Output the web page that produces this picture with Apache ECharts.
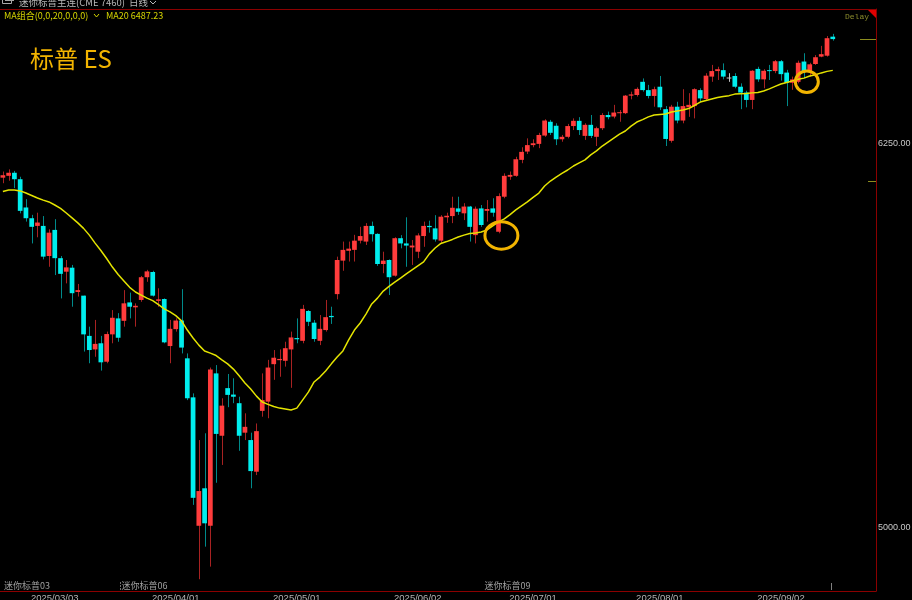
<!DOCTYPE html>
<html><head><meta charset="utf-8">
<script src="https://cdn.jsdelivr.net/npm/echarts@6/dist/echarts.min.js"></script>
<style>html,body{margin:0;padding:0;background:#000;}#c{width:912px;height:600px;}</style>
</head><body><div id="c"></div>
<script>
const dates = [
'2025/02/18','2025/02/19','2025/02/20','2025/02/21','2025/02/24','2025/02/25','2025/02/26','2025/02/27','2025/02/28',
'2025/03/03','2025/03/04','2025/03/05','2025/03/06','2025/03/07','2025/03/10','2025/03/11','2025/03/12','2025/03/13','2025/03/14','2025/03/17','2025/03/18','2025/03/19','2025/03/20','2025/03/21','2025/03/24','2025/03/25','2025/03/26','2025/03/27','2025/03/28','2025/03/31',
'2025/04/01','2025/04/02','2025/04/03','2025/04/04','2025/04/07','2025/04/08','2025/04/09','2025/04/10','2025/04/11','2025/04/14','2025/04/15','2025/04/16','2025/04/17','2025/04/21','2025/04/22','2025/04/23','2025/04/24','2025/04/25','2025/04/28','2025/04/29','2025/04/30',
'2025/05/01','2025/05/02','2025/05/05','2025/05/06','2025/05/07','2025/05/08','2025/05/09','2025/05/12','2025/05/13','2025/05/14','2025/05/15','2025/05/16','2025/05/19','2025/05/20','2025/05/21','2025/05/22','2025/05/23','2025/05/27','2025/05/28','2025/05/29','2025/05/30',
'2025/06/02','2025/06/03','2025/06/04','2025/06/05','2025/06/06','2025/06/09','2025/06/10','2025/06/11','2025/06/12','2025/06/13','2025/06/16','2025/06/17','2025/06/18','2025/06/20','2025/06/23','2025/06/24','2025/06/25','2025/06/26','2025/06/27','2025/06/30',
'2025/07/01','2025/07/02','2025/07/03','2025/07/07','2025/07/08','2025/07/09','2025/07/10','2025/07/11','2025/07/14','2025/07/15','2025/07/16','2025/07/17','2025/07/18','2025/07/21','2025/07/22','2025/07/23','2025/07/24','2025/07/25','2025/07/28','2025/07/29','2025/07/30','2025/07/31',
'2025/08/01','2025/08/04','2025/08/05','2025/08/06','2025/08/07','2025/08/08','2025/08/11','2025/08/12','2025/08/13','2025/08/14','2025/08/15','2025/08/18','2025/08/19','2025/08/20','2025/08/21','2025/08/22','2025/08/25','2025/08/26','2025/08/27','2025/08/28','2025/08/29',
'2025/09/02','2025/09/03','2025/09/04','2025/09/05','2025/09/08','2025/09/09','2025/09/10','2025/09/11','2025/09/12','2025/09/15'
];
const opens = [
6138,6144,6154,6133,6041,6006,5981,5981,5883,5968,
5876,5832,5845,5766,5754,5623,5579,5599,5539,5628,
5680,5672,5732,5716,5740,5814,5831,5737,5743,5590,
5645,5673,5550,5423,5005,5127,5005,5501,5298,5453,
5432,5404,5308,5284,5181,5379,5409,5531,5544,5542,
5579,5616,5607,5704,5666,5607,5642,5688,5759,5868,
5900,5903,5933,5930,5981,5955,5857,5870,5819,5941,
5924,5911,5897,5948,5981,5973,5933,6009,6013,6038,
6022,6044,5951,6038,6030,6038,5962,6076,6141,6144,
6196,6223,6244,6248,6275,6320,6307,6263,6271,6306,
6323,6274,6310,6271,6299,6342,6337,6348,6348,6405,
6407,6450,6423,6404,6434,6361,6258,6369,6324,6367,
6371,6423,6394,6467,6485,6488,6464,6469,6434,6415,
6391,6492,6458,6488,6485,6517,6480,6447,6450,6516,
6483,6508,6532,6535,6597
];
const closes = [
6146,6154,6133,6030,6006,5978,5992,5881,5959,5876,
5825,5846,5762,5772,5628,5577,5597,5537,5629,5682,
5617,5729,5718,5721,5814,5833,5754,5742,5602,5646,
5673,5585,5420,5096,5118,5013,5514,5304,5396,5431,
5425,5298,5327,5183,5313,5414,5520,5552,5548,5583,
5618,5612,5711,5669,5613,5646,5684,5684,5870,5903,
5907,5933,5948,5981,5954,5857,5868,5814,5941,5924,
5917,5917,5950,5981,5977,5937,6011,6014,6040,6027,
6044,5978,6037,5984,6036,6024,6078,6144,6147,6198,
6222,6244,6250,6277,6324,6284,6263,6271,6306,6323,
6293,6310,6274,6299,6342,6335,6350,6351,6405,6409,
6427,6423,6404,6426,6367,6264,6369,6324,6371,6375,
6426,6396,6470,6485,6491,6467,6464,6434,6415,6391,
6486,6458,6486,6485,6517,6475,6447,6458,6512,6483,
6507,6530,6540,6592,6589
];
const lows = [
6120,6128,6104,6022,5995,5924,5944,5872,5848,5821,
5745,5794,5718,5751,5572,5534,5555,5510,5534,5599,
5604,5653,5680,5653,5734,5799,5751,5718,5599,5534,
5637,5566,5414,5073,4831,4937,4872,5145,5203,5391,
5404,5249,5284,5127,5170,5360,5355,5480,5490,5523,
5454,5599,5599,5655,5604,5593,5637,5662,5742,5835,
5865,5865,5924,5919,5930,5851,5827,5756,5816,5908,
5848,5854,5876,5913,5959,5930,5924,5991,5990,6017,
6000,5930,5924,5978,5995,6011,5957,6071,6131,6141,
6185,6215,6237,6234,6271,6277,6244,6255,6266,6293,
6277,6261,6267,6241,6293,6328,6331,6320,6345,6393,
6402,6418,6396,6369,6358,6241,6252,6315,6315,6336,
6331,6385,6391,6450,6456,6458,6450,6429,6361,6367,
6361,6450,6429,6456,6478,6454,6371,6424,6445,6462,
6467,6505,6530,6532,6584
];
const highs = [
6158,6165,6160,6141,6068,6017,6024,6013,5970,6003,
5883,5870,5854,5792,5754,5653,5675,5623,5637,5707,
5697,5772,5764,5729,5818,5838,5835,5778,5745,5675,
5680,5775,5566,5436,5284,5306,5520,5528,5420,5499,
5485,5425,5371,5308,5338,5501,5545,5577,5579,5604,
5637,5680,5724,5707,5675,5691,5740,5718,5881,5930,
5930,5952,5978,5990,5995,5957,5897,5872,5944,5951,
6009,5935,5957,5995,5998,6016,6016,6024,6076,6076,
6055,6046,6044,6049,6065,6071,6087,6152,6158,6206,
6237,6266,6263,6284,6328,6326,6315,6277,6313,6331,
6335,6315,6342,6304,6348,6353,6375,6358,6407,6418,
6432,6461,6440,6434,6469,6371,6375,6385,6426,6413,
6429,6429,6478,6505,6499,6510,6478,6478,6445,6421,
6488,6499,6491,6505,6521,6521,6489,6467,6519,6543,
6512,6537,6567,6599,6606
];
const ma20 = [
6093,6098,6098,6095,6088,6080,6072,6065,6059,6049,
6038,6023,6007,5991,5973,5951,5925,5901,5875,5847,
5823,5802,5781,5766,5756,5746,5738,5725,5711,5701,
5689,5672,5642,5616,5593,5574,5567,5559,5545,5532,
5515,5493,5470,5450,5427,5408,5400,5393,5388,5385,
5382,5388,5414,5440,5473,5489,5509,5532,5554,5574,
5610,5642,5665,5694,5727,5746,5769,5784,5798,5811,
5825,5838,5851,5864,5890,5909,5924,5930,5937,5945,
5951,5956,5958,5961,5968,5981,5994,6004,6018,6033,
6046,6059,6074,6088,6111,6127,6140,6152,6163,6176,
6186,6196,6212,6225,6241,6254,6267,6280,6290,6306,
6319,6327,6336,6342,6344,6345,6352,6355,6358,6363,
6373,6384,6389,6394,6399,6402,6405,6410,6411,6412,
6414,6415,6420,6427,6435,6443,6448,6453,6458,6462,
6469,6473,6479,6484,6487.23
];
const dateTicks = ['2025/03/03','2025/04/01','2025/05/01','2025/06/02','2025/07/01','2025/08/01','2025/09/02'];
const priceTicks = [5000, 6250];
const rollNames = ['迷你标普03','迷你标普06','迷你标普09'];
const rollAt = [0, 21, 84];
const markedPoints = [[86.5, 5950], [139.5, 6450]];
const refPrice = 6127;
const padSlots = 7;

const cats = dates.concat(new Array(padSlots).fill(''));
const candleData = dates.map((d, i) => [i, opens[i], closes[i], lows[i], highs[i]]);

const UP = '#ff3c3c', DOWN = '#00eeee', UPW = '#a82222', DOWNW = '#008a8a', FLAT = '#c4c4c4';

function renderCandle(params, api) {
  const i = api.value(0), o = api.value(1), c = api.value(2), l = api.value(3), h = api.value(4);
  const pO = api.coord([i, o]), pC = api.coord([i, c]), pL = api.coord([i, l]), pH = api.coord([i, h]);
  const w = api.size([1, 0])[0] * 0.82;
  const x = pO[0];
  const up = c > o, flat = c === o;
  const body = up ? UP : (flat ? FLAT : DOWN);
  const wick = up ? UPW : (flat ? FLAT : DOWNW);
  const top = Math.min(pO[1], pC[1]), bot = Math.max(pO[1], pC[1]);
  const xr = Math.round(x) + 0.5;
  return { type: 'group', children: [
    { type: 'line', shape: { x1: xr, y1: pH[1], x2: xr, y2: pL[1] }, style: { stroke: wick, lineWidth: 1 } },
    { type: 'rect', shape: { x: x - w / 2, y: top, width: w, height: Math.max(bot - top, 1) }, style: { fill: body } }
  ]};
}

const chart = echarts.init(document.getElementById('c'), null, { renderer: 'canvas' });
const option = {
  backgroundColor: '#000000',
  animation: false,
  grid: { left: 0, right: 36, top: 9, bottom: 9, show: false, containLabel: false, outerBoundsMode: 'none' },
  xAxis: {
    type: 'category', data: cats, boundaryGap: true,
    axisLine: { show: true, lineStyle: { color: '#8b0000', width: 1 } },
    axisTick: { show: false }, splitLine: { show: false },
    axisLabel: {
      interval: (idx, val) => dateTicks.includes(val),
      color: '#b4b4b4', fontSize: 9.5, margin: 2, fontFamily: 'Liberation Sans'
    }
  },
  yAxis: {
    type: 'value', position: 'right', min: 4792.7, max: 6687, scale: true,
    axisLine: { show: true, lineStyle: { color: '#8b0000', width: 1 } },
    axisTick: { show: false }, splitLine: { show: false },
    axisLabel: {
      customValues: priceTicks, formatter: v => Number(v).toFixed(2),
      color: '#c8c8c8', fontSize: 9, margin: 2, fontFamily: 'Liberation Sans'
    }
  },
  series: [
    { type: 'custom', name: 'K', renderItem: renderCandle, data: candleData, clip: true,
      encode: { x: 0, y: [1, 2, 3, 4] } },
    { type: 'line', name: 'MA20', data: ma20, symbol: 'none', smooth: false,
      lineStyle: { color: '#e4e400', width: 1.5 }, z: 3 }
  ]
};
chart.setOption(option);

function px(idx, val) { return chart.convertToPixel({ xAxisIndex: 0, yAxisIndex: 0 }, [idx, val]); }
function pxFrac(k, val) {
  const a = px(Math.floor(k), val), b = px(Math.floor(k) + 1, val);
  const f = k - Math.floor(k);
  return [a[0] + (b[0] - a[0]) * f, a[1]];
}
const slot = px(1, 6000)[0] - px(0, 6000)[0];
const g = [];
g.push({ type: 'line', shape: { x1: 0, y1: 9.5, x2: 876.5, y2: 9.5 }, style: { stroke: '#8b0000', lineWidth: 1 }, z: 10 });
g.push({ type: 'polygon', shape: { points: [[868, 10], [876, 10], [876, 18]] }, style: { fill: '#e00000' }, z: 10 });
g.push({ type: 'rect', shape: { x: 2.5, y: -3.5, width: 9, height: 7 }, style: { fill: 'none', stroke: '#a8a8a8', lineWidth: 1 }, z: 10 });
g.push({ type: 'line', shape: { x1: 5, y1: 0.5, x2: 14, y2: 0.5 }, style: { stroke: '#a8a8a8', lineWidth: 1 }, z: 10 });
g.push({ type: 'text', x: 19, y: 2, style: { text: '迷你标普主连(CME 7460)', fill: '#b8b8b8', fontSize: 9.5, fontFamily: 'Noto Sans CJK SC', verticalAlign: 'middle' }, z: 10 });
g.push({ type: 'text', x: 129, y: 2, style: { text: '日线', fill: '#b8b8b8', fontSize: 9.5, fontFamily: 'Noto Sans CJK SC', verticalAlign: 'middle' }, z: 10 });
g.push({ type: 'polyline', shape: { points: [[150, 1], [153, 4], [156, 1]] }, style: { stroke: '#b8b8b8', lineWidth: 1, fill: 'none' }, z: 10 });
g.push({ type: 'text', x: 4, y: 15.5, style: { text: 'MA组合(0,0,20,0,0,0)', fill: '#d6d600', fontSize: 9, fontFamily: 'Noto Sans CJK SC', verticalAlign: 'middle' }, z: 10 });
g.push({ type: 'polyline', shape: { points: [[94, 14], [96.5, 17], [99, 14]] }, style: { stroke: '#d6d600', lineWidth: 1, fill: 'none' }, z: 10 });
g.push({ type: 'text', x: 106, y: 15.5, style: { text: 'MA20 ' + ma20[ma20.length - 1].toFixed(2), fill: '#d6d600', fontSize: 9, fontFamily: 'Noto Sans CJK SC', verticalAlign: 'middle' }, z: 10 });
g.push({ type: 'text', x: 845, y: 16.5, style: { text: 'Delay', fill: '#8c8c2c', fontSize: 8, fontFamily: 'Liberation Mono', verticalAlign: 'middle' }, z: 10 });
g.push({ type: 'text', x: 30, y: 59, style: { text: '标普 ES', fill: '#f2b400', fontSize: 24, fontFamily: 'Noto Sans CJK SC', verticalAlign: 'middle' }, z: 10 });
const radii = [[16.5, 13.8], [11.5, 10.8]];
markedPoints.forEach((p, i) => {
  const c = pxFrac(p[0], p[1]);
  g.push({ type: 'ellipse', shape: { cx: c[0], cy: c[1], rx: radii[i][0], ry: radii[i][1] }, style: { fill: 'none', stroke: '#f2b400', lineWidth: 3 }, z: 10 });
});
const yLast = px(0, closes[closes.length - 1])[1];
g.push({ type: 'line', shape: { x1: 860, y1: Math.round(yLast) + 0.5, x2: 876, y2: Math.round(yLast) + 0.5 }, style: { stroke: '#8c8c1e', lineWidth: 1 }, z: 10 });
const yRef = px(0, refPrice)[1];
g.push({ type: 'line', shape: { x1: 868, y1: Math.round(yRef) + 0.5, x2: 876, y2: Math.round(yRef) + 0.5 }, style: { stroke: '#8c8c1e', lineWidth: 1 }, z: 10 });
rollNames.forEach((name, i) => {
  const edge = px(rollAt[i], 6000)[0] - slot / 2;
  g.push({ type: 'text', x: i === 0 ? 4 : edge + 0.5, y: 586, style: { text: name, fill: '#a0a0a0', fontSize: 9, fontFamily: 'Noto Sans CJK SC', verticalAlign: 'middle' }, z: 10 });
  if (i === 1) g.push({ type: 'line', shape: { x1: Math.round(edge) - 0.5, y1: 582, x2: Math.round(edge) - 0.5, y2: 590 }, style: { stroke: '#707070', lineWidth: 1, lineDash: [2, 1] }, z: 10 });
});
const xLast = Math.round(px(dates.length - 1, 6000)[0] - 2) + 0.5;
g.push({ type: 'line', shape: { x1: xLast, y1: 583, x2: xLast, y2: 590 }, style: { stroke: '#808080', lineWidth: 1 }, z: 10 });
chart.setOption({ graphic: g });
</script></body></html>
